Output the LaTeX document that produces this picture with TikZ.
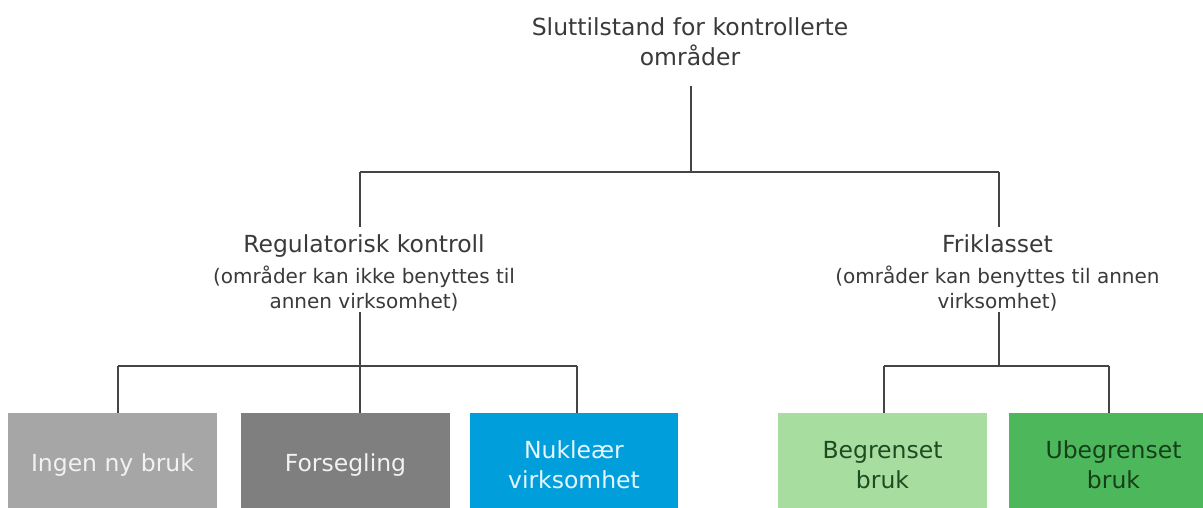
\documentclass[tikz,border=0pt]{standalone}
\usepackage{fontspec}
\setmainfont{DejaVu Sans}
\definecolor{txt}{HTML}{3A3A3A}
\definecolor{linec}{HTML}{444444}
\definecolor{greyA}{HTML}{A6A6A6}
\definecolor{greyB}{HTML}{7F7F7F}
\definecolor{blueC}{HTML}{009FDB}
\definecolor{greenL}{HTML}{A8DDA0}
\definecolor{greenD}{HTML}{4DB85B}
\definecolor{txtLight}{HTML}{F2F2F2}
\definecolor{txtBlue}{HTML}{E6F5FF}
\definecolor{txtGL}{HTML}{1F4A22}
\definecolor{txtGD}{HTML}{163E1B}
\tikzset{
  hd/.style={anchor=base, inner sep=0pt, text=txt, font=\fontsize{23.5}{30}\selectfont},
  sub/.style={anchor=base, inner sep=0pt, text=txt, font=\fontsize{20}{25}\selectfont},
  leaf/.style={minimum width=209pt, minimum height=104pt, inner sep=0pt, align=center,
    font=\fontsize{23.5}{30}\selectfont},
  conn/.style={draw=linec, line width=1.1pt}
}
\begin{document}
\begin{tikzpicture}[x=1pt,y=-1pt]
\clip (0,0) rectangle (1203,507);
\fill[white] (0,0) rectangle (1203,507);
% texts
\node[hd] (top1) at (690,35) {Sluttilstand for kontrollerte};
\node[hd] (top2) at (690,65) {områder};
\node[hd] (reg1) at (364,252) {Regulatorisk kontroll};
\node[sub] (reg2) at (364,283) {(områder kan ikke benyttes til};
\node[sub] (reg3) at (364,308) {annen virksomhet)};
\node[hd] (fri1) at (997.5,252) {Friklasset};
\node[sub] (fri2) at (997.5,283) {(områder kan benyttes til annen};
\node[sub] (fri3) at (997.5,308) {virksomhet)};
% boxes
\node[leaf, fill=greyA, text=txtLight] (b1) at (112.5,465) {Ingen ny bruk};
\node[leaf, fill=greyB, text=txtLight] (b2) at (345.5,465) {Forsegling};
\node[leaf, fill=blueC, text=txtBlue, minimum width=208pt] (b3) at (574,465) {Nukleær\\virksomhet};
\node[leaf, fill=greenL, text=txtGL] (b4) at (882.5,465) {Begrenset\\bruk};
\node[leaf, fill=greenD, text=txtGD] (b5) at (1113.5,465) {Ubegrenset\\bruk};
% junctions
\coordinate (j0) at (691,172);
\coordinate (jl) at (360,172);
\coordinate (jr) at (999,172);
\coordinate (kl) at (360,366);
\coordinate (k1) at (118,366);
\coordinate (k3) at (577,366);
\coordinate (kr) at (999,366);
\coordinate (k4) at (884,366);
\coordinate (k5) at (1109,366);
% connectors
\draw[conn] ([yshift=-20pt]top2.south -| j0) -- (j0);
\draw[conn] (jl) -- (jr);
\draw[conn] (jl) -- ([yshift=7pt]reg1.north -| jl);
\draw[conn] (jr) -- ([yshift=7pt]fri1.north -| jr);
\draw[conn] ([yshift=-1pt]reg3.south -| kl) -- (kl |- b2.north);
\draw[conn] (k1) -- (k3);
\draw[conn] (k1) -- (k1 |- b1.north);
\draw[conn] (k3) -- (k3 |- b3.north);
\draw[conn] ([yshift=-1pt]fri3.south -| kr) -- (kr);
\draw[conn] (k4) -- (k5);
\draw[conn] (k4) -- (k4 |- b4.north);
\draw[conn] (k5) -- (k5 |- b5.north);
\end{tikzpicture}
\end{document}
